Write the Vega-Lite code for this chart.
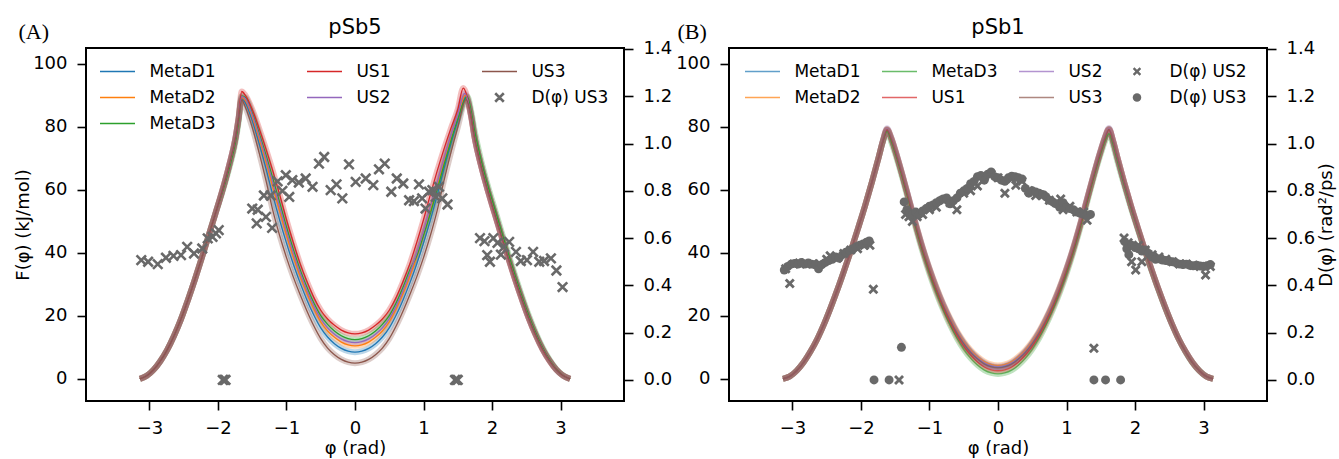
{
"$schema": "https://vega.github.io/schema/vega-lite/v6.json",
"background": "white",
"padding": {"left": 13, "top": 16, "right": 0, "bottom": 0},
"config": {
 "font": "DejaVu Sans",
 "view": {"stroke": "black", "strokeWidth": 2},
 "axis": {"domain": false, "grid": false, "tickColor": "black", "tickWidth": 1.6, "tickSize": 9, "labelFont": "DejaVu Sans", "labelFontSize": 18, "labelColor": "black", "labelPadding": 10, "titleFont": "DejaVu Sans", "titleFontSize": 18, "titleFontWeight": "normal", "titleColor": "black"},
 "axisX": {"labelPadding": 9, "titlePadding": 2},
 "title": {"font": "DejaVu Sans", "fontSize": 21, "fontWeight": "normal", "color": "black", "offset": -18, "frame": "group"}
},
"datasets": {
"cA": [
{"s":"MetaD1","x":-3.14,"F":0},{"s":"MetaD1","x":-3.04,"F":1.0},{"s":"MetaD1","x":-2.94,"F":2.9},{"s":"MetaD1","x":-2.84,"F":5.7},{"s":"MetaD1","x":-2.74,"F":9.3},{"s":"MetaD1","x":-2.64,"F":13.8},{"s":"MetaD1","x":-2.54,"F":19.0},{"s":"MetaD1","x":-2.44,"F":25.0},{"s":"MetaD1","x":-2.34,"F":31.4},{"s":"MetaD1","x":-2.24,"F":38.2},{"s":"MetaD1","x":-2.14,"F":45.2},{"s":"MetaD1","x":-2.04,"F":52.3},{"s":"MetaD1","x":-1.94,"F":59.5},{"s":"MetaD1","x":-1.84,"F":67.5},{"s":"MetaD1","x":-1.74,"F":77.0},{"s":"MetaD1","x":-1.70,"F":82.5},
{"s":"MetaD1","x":-1.654,"F":89.0},
{"s":"MetaD1","x":-1.6,"F":87.6},{"s":"MetaD1","x":-1.5,"F":82.0},{"s":"MetaD1","x":-1.4,"F":74.7},{"s":"MetaD1","x":-1.3,"F":66.8},{"s":"MetaD1","x":-1.2,"F":58.3},{"s":"MetaD1","x":-1.1,"F":50.4},{"s":"MetaD1","x":-1.0,"F":43.1},{"s":"MetaD1","x":-0.9,"F":36.4},{"s":"MetaD1","x":-0.8,"F":30.4},{"s":"MetaD1","x":-0.7,"F":25.0},{"s":"MetaD1","x":-0.6,"F":20.2},{"s":"MetaD1","x":-0.5,"F":16.2},{"s":"MetaD1","x":-0.4,"F":13.3},{"s":"MetaD1","x":-0.3,"F":11.2},{"s":"MetaD1","x":-0.2,"F":9.7},{"s":"MetaD1","x":-0.1,"F":8.8},{"s":"MetaD1","x":0,"F":8.5},{"s":"MetaD1","x":0.1,"F":8.8},{"s":"MetaD1","x":0.2,"F":9.7},{"s":"MetaD1","x":0.3,"F":11.2},{"s":"MetaD1","x":0.4,"F":13.3},{"s":"MetaD1","x":0.5,"F":16.2},{"s":"MetaD1","x":0.6,"F":20.2},{"s":"MetaD1","x":0.7,"F":25.0},{"s":"MetaD1","x":0.8,"F":30.4},{"s":"MetaD1","x":0.9,"F":36.4},{"s":"MetaD1","x":1.0,"F":43.1},{"s":"MetaD1","x":1.1,"F":50.4},{"s":"MetaD1","x":1.2,"F":58.3},{"s":"MetaD1","x":1.3,"F":66.8},{"s":"MetaD1","x":1.4,"F":74.7},{"s":"MetaD1","x":1.5,"F":82.0},
{"s":"MetaD1","x":1.62,"F":89.5},
{"s":"MetaD1","x":1.70,"F":83.0},{"s":"MetaD1","x":1.74,"F":77.5},{"s":"MetaD1","x":1.84,"F":67.8},{"s":"MetaD1","x":1.94,"F":59.8},{"s":"MetaD1","x":2.04,"F":52.5},{"s":"MetaD1","x":2.14,"F":45.3},{"s":"MetaD1","x":2.24,"F":38.3},{"s":"MetaD1","x":2.34,"F":31.5},{"s":"MetaD1","x":2.44,"F":25.1},{"s":"MetaD1","x":2.54,"F":19.1},{"s":"MetaD1","x":2.64,"F":13.9},{"s":"MetaD1","x":2.74,"F":9.4},{"s":"MetaD1","x":2.84,"F":5.8},{"s":"MetaD1","x":2.94,"F":2.9},{"s":"MetaD1","x":3.04,"F":1.0},{"s":"MetaD1","x":3.14,"F":0},

{"s":"MetaD2","x":-3.14,"F":0},{"s":"MetaD2","x":-3.04,"F":1.0},{"s":"MetaD2","x":-2.94,"F":2.9},{"s":"MetaD2","x":-2.84,"F":5.7},{"s":"MetaD2","x":-2.74,"F":9.3},{"s":"MetaD2","x":-2.64,"F":13.8},{"s":"MetaD2","x":-2.54,"F":19.0},{"s":"MetaD2","x":-2.44,"F":25.0},{"s":"MetaD2","x":-2.34,"F":31.4},{"s":"MetaD2","x":-2.24,"F":38.2},{"s":"MetaD2","x":-2.14,"F":45.2},{"s":"MetaD2","x":-2.04,"F":52.3},{"s":"MetaD2","x":-1.94,"F":59.5},{"s":"MetaD2","x":-1.84,"F":67.5},{"s":"MetaD2","x":-1.74,"F":77.0},{"s":"MetaD2","x":-1.70,"F":82.5},
{"s":"MetaD2","x":-1.654,"F":89.3},
{"s":"MetaD2","x":-1.6,"F":88.4},{"s":"MetaD2","x":-1.5,"F":83.2},{"s":"MetaD2","x":-1.4,"F":76.3},{"s":"MetaD2","x":-1.3,"F":68.9},{"s":"MetaD2","x":-1.2,"F":60.9},{"s":"MetaD2","x":-1.1,"F":53.2},{"s":"MetaD2","x":-1.0,"F":45.6},{"s":"MetaD2","x":-0.9,"F":38.7},{"s":"MetaD2","x":-0.8,"F":32.5},{"s":"MetaD2","x":-0.7,"F":27.0},{"s":"MetaD2","x":-0.6,"F":22.1},{"s":"MetaD2","x":-0.5,"F":18.1},{"s":"MetaD2","x":-0.4,"F":15.2},{"s":"MetaD2","x":-0.3,"F":13.2},{"s":"MetaD2","x":-0.2,"F":11.7},{"s":"MetaD2","x":-0.1,"F":10.8},{"s":"MetaD2","x":0,"F":10.5},{"s":"MetaD2","x":0.1,"F":10.8},{"s":"MetaD2","x":0.2,"F":11.7},{"s":"MetaD2","x":0.3,"F":13.2},{"s":"MetaD2","x":0.4,"F":15.2},{"s":"MetaD2","x":0.5,"F":18.1},{"s":"MetaD2","x":0.6,"F":22.1},{"s":"MetaD2","x":0.7,"F":27.0},{"s":"MetaD2","x":0.8,"F":32.5},{"s":"MetaD2","x":0.9,"F":38.7},{"s":"MetaD2","x":1.0,"F":45.6},{"s":"MetaD2","x":1.1,"F":53.2},{"s":"MetaD2","x":1.2,"F":60.9},{"s":"MetaD2","x":1.3,"F":68.9},{"s":"MetaD2","x":1.4,"F":76.3},{"s":"MetaD2","x":1.5,"F":83.2},
{"s":"MetaD2","x":1.61,"F":90.0},
{"s":"MetaD2","x":1.70,"F":83.0},{"s":"MetaD2","x":1.74,"F":77.5},{"s":"MetaD2","x":1.84,"F":67.8},{"s":"MetaD2","x":1.94,"F":59.8},{"s":"MetaD2","x":2.04,"F":52.5},{"s":"MetaD2","x":2.14,"F":45.3},{"s":"MetaD2","x":2.24,"F":38.3},{"s":"MetaD2","x":2.34,"F":31.5},{"s":"MetaD2","x":2.44,"F":25.1},{"s":"MetaD2","x":2.54,"F":19.1},{"s":"MetaD2","x":2.64,"F":13.9},{"s":"MetaD2","x":2.74,"F":9.4},{"s":"MetaD2","x":2.84,"F":5.8},{"s":"MetaD2","x":2.94,"F":2.9},{"s":"MetaD2","x":3.04,"F":1.0},{"s":"MetaD2","x":3.14,"F":0},

{"s":"MetaD3","x":-3.14,"F":0},{"s":"MetaD3","x":-3.04,"F":1.0},{"s":"MetaD3","x":-2.94,"F":2.9},{"s":"MetaD3","x":-2.84,"F":5.7},{"s":"MetaD3","x":-2.74,"F":9.3},{"s":"MetaD3","x":-2.64,"F":13.8},{"s":"MetaD3","x":-2.54,"F":19.0},{"s":"MetaD3","x":-2.44,"F":25.0},{"s":"MetaD3","x":-2.34,"F":31.4},{"s":"MetaD3","x":-2.24,"F":38.2},{"s":"MetaD3","x":-2.14,"F":45.2},{"s":"MetaD3","x":-2.04,"F":52.3},{"s":"MetaD3","x":-1.94,"F":59.0},{"s":"MetaD3","x":-1.84,"F":66.5},{"s":"MetaD3","x":-1.74,"F":75.8},{"s":"MetaD3","x":-1.70,"F":81.5},
{"s":"MetaD3","x":-1.654,"F":89.8},
{"s":"MetaD3","x":-1.6,"F":89.3},{"s":"MetaD3","x":-1.5,"F":84.4},{"s":"MetaD3","x":-1.4,"F":78.0},{"s":"MetaD3","x":-1.3,"F":71.1},{"s":"MetaD3","x":-1.2,"F":63.6},{"s":"MetaD3","x":-1.1,"F":56.0},{"s":"MetaD3","x":-1.0,"F":48.2},{"s":"MetaD3","x":-0.9,"F":41.1},{"s":"MetaD3","x":-0.8,"F":34.6},{"s":"MetaD3","x":-0.7,"F":29.0},{"s":"MetaD3","x":-0.6,"F":24.1},{"s":"MetaD3","x":-0.5,"F":20.1},{"s":"MetaD3","x":-0.4,"F":17.3},{"s":"MetaD3","x":-0.3,"F":15.2},{"s":"MetaD3","x":-0.2,"F":13.7},{"s":"MetaD3","x":-0.1,"F":12.8},{"s":"MetaD3","x":0,"F":12.5},{"s":"MetaD3","x":0.1,"F":12.8},{"s":"MetaD3","x":0.2,"F":13.7},{"s":"MetaD3","x":0.3,"F":15.2},{"s":"MetaD3","x":0.4,"F":17.3},{"s":"MetaD3","x":0.5,"F":20.1},{"s":"MetaD3","x":0.6,"F":24.1},{"s":"MetaD3","x":0.7,"F":29.0},{"s":"MetaD3","x":0.8,"F":34.6},{"s":"MetaD3","x":0.9,"F":39.0},{"s":"MetaD3","x":1.0,"F":45.5},{"s":"MetaD3","x":1.1,"F":52.5},{"s":"MetaD3","x":1.2,"F":60.0},{"s":"MetaD3","x":1.3,"F":68.0},{"s":"MetaD3","x":1.4,"F":75.5},{"s":"MetaD3","x":1.5,"F":82.5},
{"s":"MetaD3","x":1.64,"F":89.6},
{"s":"MetaD3","x":1.70,"F":84.5},{"s":"MetaD3","x":1.74,"F":79.5},{"s":"MetaD3","x":1.84,"F":69.5},{"s":"MetaD3","x":1.94,"F":61.3},{"s":"MetaD3","x":2.04,"F":54.0},{"s":"MetaD3","x":2.14,"F":46.7},{"s":"MetaD3","x":2.24,"F":39.6},{"s":"MetaD3","x":2.34,"F":32.7},{"s":"MetaD3","x":2.44,"F":26.1},{"s":"MetaD3","x":2.54,"F":20.0},{"s":"MetaD3","x":2.64,"F":14.6},{"s":"MetaD3","x":2.74,"F":9.9},{"s":"MetaD3","x":2.84,"F":6.1},{"s":"MetaD3","x":2.94,"F":3.1},{"s":"MetaD3","x":3.04,"F":1.1},{"s":"MetaD3","x":3.14,"F":0},

{"s":"US1","x":-3.14,"F":0},{"s":"US1","x":-3.04,"F":1.0},{"s":"US1","x":-2.94,"F":2.9},{"s":"US1","x":-2.84,"F":5.7},{"s":"US1","x":-2.74,"F":9.3},{"s":"US1","x":-2.64,"F":13.8},{"s":"US1","x":-2.54,"F":19.0},{"s":"US1","x":-2.44,"F":25.0},{"s":"US1","x":-2.34,"F":31.4},{"s":"US1","x":-2.24,"F":38.2},{"s":"US1","x":-2.14,"F":45.2},{"s":"US1","x":-2.04,"F":52.3},{"s":"US1","x":-1.94,"F":59.5},{"s":"US1","x":-1.84,"F":67.5},{"s":"US1","x":-1.74,"F":77.0},{"s":"US1","x":-1.70,"F":82.8},
{"s":"US1","x":-1.654,"F":91.2},
{"s":"US1","x":-1.6,"F":90.0},{"s":"US1","x":-1.5,"F":85.5},{"s":"US1","x":-1.4,"F":79.5},{"s":"US1","x":-1.3,"F":73.0},{"s":"US1","x":-1.2,"F":66.0},{"s":"US1","x":-1.1,"F":58.5},{"s":"US1","x":-1.0,"F":50.5},{"s":"US1","x":-0.9,"F":43.2},{"s":"US1","x":-0.8,"F":36.5},{"s":"US1","x":-0.7,"F":30.8},{"s":"US1","x":-0.6,"F":25.8},{"s":"US1","x":-0.5,"F":21.8},{"s":"US1","x":-0.4,"F":19.0},{"s":"US1","x":-0.3,"F":17.0},{"s":"US1","x":-0.2,"F":15.5},{"s":"US1","x":-0.1,"F":14.6},{"s":"US1","x":0,"F":14.3},{"s":"US1","x":0.1,"F":14.6},{"s":"US1","x":0.2,"F":15.5},{"s":"US1","x":0.3,"F":17.0},{"s":"US1","x":0.4,"F":19.0},{"s":"US1","x":0.5,"F":21.8},{"s":"US1","x":0.6,"F":25.8},{"s":"US1","x":0.7,"F":30.8},{"s":"US1","x":0.8,"F":36.5},{"s":"US1","x":0.9,"F":43.2},{"s":"US1","x":1.0,"F":50.5},{"s":"US1","x":1.1,"F":58.5},{"s":"US1","x":1.2,"F":66.0},{"s":"US1","x":1.3,"F":73.0},{"s":"US1","x":1.4,"F":79.5},{"s":"US1","x":1.5,"F":85.5},
{"s":"US1","x":1.58,"F":92.3},
{"s":"US1","x":1.70,"F":82.5},{"s":"US1","x":1.74,"F":77.2},{"s":"US1","x":1.84,"F":67.6},{"s":"US1","x":1.94,"F":59.6},{"s":"US1","x":2.04,"F":52.3},{"s":"US1","x":2.14,"F":45.1},{"s":"US1","x":2.24,"F":38.1},{"s":"US1","x":2.34,"F":31.3},{"s":"US1","x":2.44,"F":25.0},{"s":"US1","x":2.54,"F":19.0},{"s":"US1","x":2.64,"F":13.8},{"s":"US1","x":2.74,"F":9.3},{"s":"US1","x":2.84,"F":5.7},{"s":"US1","x":2.94,"F":2.9},{"s":"US1","x":3.04,"F":1.0},{"s":"US1","x":3.14,"F":0},

{"s":"US2","x":-3.14,"F":0},{"s":"US2","x":-3.04,"F":1.0},{"s":"US2","x":-2.94,"F":2.9},{"s":"US2","x":-2.84,"F":5.7},{"s":"US2","x":-2.74,"F":9.3},{"s":"US2","x":-2.64,"F":13.8},{"s":"US2","x":-2.54,"F":19.0},{"s":"US2","x":-2.44,"F":25.0},{"s":"US2","x":-2.34,"F":31.4},{"s":"US2","x":-2.24,"F":38.2},{"s":"US2","x":-2.14,"F":45.2},{"s":"US2","x":-2.04,"F":52.3},{"s":"US2","x":-1.94,"F":59.5},{"s":"US2","x":-1.84,"F":67.5},{"s":"US2","x":-1.74,"F":77.0},{"s":"US2","x":-1.70,"F":82.5},
{"s":"US2","x":-1.654,"F":89.6},
{"s":"US2","x":-1.6,"F":88.9},{"s":"US2","x":-1.5,"F":83.8},{"s":"US2","x":-1.4,"F":77.2},{"s":"US2","x":-1.3,"F":70.0},{"s":"US2","x":-1.2,"F":62.3},{"s":"US2","x":-1.1,"F":54.6},{"s":"US2","x":-1.0,"F":46.9},{"s":"US2","x":-0.9,"F":39.9},{"s":"US2","x":-0.8,"F":33.6},{"s":"US2","x":-0.7,"F":28.0},{"s":"US2","x":-0.6,"F":23.1},{"s":"US2","x":-0.5,"F":19.1},{"s":"US2","x":-0.4,"F":16.2},{"s":"US2","x":-0.3,"F":14.2},{"s":"US2","x":-0.2,"F":12.7},{"s":"US2","x":-0.1,"F":11.8},{"s":"US2","x":0,"F":11.5},{"s":"US2","x":0.1,"F":11.8},{"s":"US2","x":0.2,"F":12.7},{"s":"US2","x":0.3,"F":14.2},{"s":"US2","x":0.4,"F":16.2},{"s":"US2","x":0.5,"F":19.1},{"s":"US2","x":0.6,"F":23.1},{"s":"US2","x":0.7,"F":28.0},{"s":"US2","x":0.8,"F":33.6},{"s":"US2","x":0.9,"F":39.9},{"s":"US2","x":1.0,"F":46.9},{"s":"US2","x":1.1,"F":54.6},{"s":"US2","x":1.2,"F":62.3},{"s":"US2","x":1.3,"F":70.0},{"s":"US2","x":1.4,"F":77.2},{"s":"US2","x":1.5,"F":83.8},
{"s":"US2","x":1.60,"F":90.6},
{"s":"US2","x":1.70,"F":83.0},{"s":"US2","x":1.74,"F":77.5},{"s":"US2","x":1.84,"F":67.8},{"s":"US2","x":1.94,"F":59.8},{"s":"US2","x":2.04,"F":52.5},{"s":"US2","x":2.14,"F":45.3},{"s":"US2","x":2.24,"F":38.3},{"s":"US2","x":2.34,"F":31.5},{"s":"US2","x":2.44,"F":25.1},{"s":"US2","x":2.54,"F":19.1},{"s":"US2","x":2.64,"F":13.9},{"s":"US2","x":2.74,"F":9.4},{"s":"US2","x":2.84,"F":5.8},{"s":"US2","x":2.94,"F":2.9},{"s":"US2","x":3.04,"F":1.0},{"s":"US2","x":3.14,"F":0},

{"s":"US3","x":-3.14,"F":0},{"s":"US3","x":-3.04,"F":1.0},{"s":"US3","x":-2.94,"F":2.9},{"s":"US3","x":-2.84,"F":5.7},{"s":"US3","x":-2.74,"F":9.3},{"s":"US3","x":-2.64,"F":13.8},{"s":"US3","x":-2.54,"F":19.0},{"s":"US3","x":-2.44,"F":25.0},{"s":"US3","x":-2.34,"F":31.4},{"s":"US3","x":-2.24,"F":38.2},{"s":"US3","x":-2.14,"F":45.2},{"s":"US3","x":-2.04,"F":52.3},{"s":"US3","x":-1.94,"F":59.5},{"s":"US3","x":-1.84,"F":67.5},{"s":"US3","x":-1.74,"F":77.0},{"s":"US3","x":-1.70,"F":82.5},
{"s":"US3","x":-1.654,"F":88.5},
{"s":"US3","x":-1.6,"F":86.2},{"s":"US3","x":-1.5,"F":79.8},{"s":"US3","x":-1.4,"F":71.8},{"s":"US3","x":-1.3,"F":63.0},{"s":"US3","x":-1.2,"F":53.5},{"s":"US3","x":-1.1,"F":45.5},{"s":"US3","x":-1.0,"F":38.5},{"s":"US3","x":-0.9,"F":32.3},{"s":"US3","x":-0.8,"F":26.7},{"s":"US3","x":-0.7,"F":21.5},{"s":"US3","x":-0.6,"F":16.8},{"s":"US3","x":-0.5,"F":12.8},{"s":"US3","x":-0.4,"F":9.8},{"s":"US3","x":-0.3,"F":7.7},{"s":"US3","x":-0.2,"F":6.2},{"s":"US3","x":-0.1,"F":5.3},{"s":"US3","x":0,"F":5.0},{"s":"US3","x":0.1,"F":5.3},{"s":"US3","x":0.2,"F":6.2},{"s":"US3","x":0.3,"F":7.7},{"s":"US3","x":0.4,"F":9.8},{"s":"US3","x":0.5,"F":12.8},{"s":"US3","x":0.6,"F":16.8},{"s":"US3","x":0.7,"F":21.5},{"s":"US3","x":0.8,"F":26.7},{"s":"US3","x":0.9,"F":32.3},{"s":"US3","x":1.0,"F":38.5},{"s":"US3","x":1.1,"F":45.5},{"s":"US3","x":1.2,"F":53.5},{"s":"US3","x":1.3,"F":63.0},{"s":"US3","x":1.4,"F":71.8},{"s":"US3","x":1.5,"F":79.8},
{"s":"US3","x":1.62,"F":88.6},
{"s":"US3","x":1.70,"F":83.0},{"s":"US3","x":1.74,"F":77.5},{"s":"US3","x":1.84,"F":67.8},{"s":"US3","x":1.94,"F":59.8},{"s":"US3","x":2.04,"F":52.5},{"s":"US3","x":2.14,"F":45.3},{"s":"US3","x":2.24,"F":38.3},{"s":"US3","x":2.34,"F":31.5},{"s":"US3","x":2.44,"F":25.1},{"s":"US3","x":2.54,"F":19.1},{"s":"US3","x":2.64,"F":13.9},{"s":"US3","x":2.74,"F":9.4},{"s":"US3","x":2.84,"F":5.8},{"s":"US3","x":2.94,"F":2.9},{"s":"US3","x":3.04,"F":1.0},{"s":"US3","x":3.14,"F":0}
],
"pA": [
{"s":"D(φ) US3","x":-3.12,"D":0.507},{"s":"D(φ) US3","x":-3.02,"D":0.50},{"s":"D(φ) US3","x":-2.88,"D":0.49},{"s":"D(φ) US3","x":-2.76,"D":0.517},{"s":"D(φ) US3","x":-2.65,"D":0.525},{"s":"D(φ) US3","x":-2.54,"D":0.528},{"s":"D(φ) US3","x":-2.45,"D":0.563},{"s":"D(φ) US3","x":-2.35,"D":0.535},{"s":"D(φ) US3","x":-2.23,"D":0.556},{"s":"D(φ) US3","x":-2.15,"D":0.599},{"s":"D(φ) US3","x":-2.08,"D":0.605},{"s":"D(φ) US3","x":-2.03,"D":0.62},{"s":"D(φ) US3","x":-1.99,"D":0.634},
{"s":"D(φ) US3","x":-1.93,"D":0.0},{"s":"D(φ) US3","x":-1.91,"D":0.0},{"s":"D(φ) US3","x":-1.89,"D":0.0},
{"s":"D(φ) US3","x":-1.50,"D":0.725},{"s":"D(φ) US3","x":-1.435,"D":0.662},{"s":"D(φ) US3","x":-1.42,"D":0.72},{"s":"D(φ) US3","x":-1.33,"D":0.78},{"s":"D(φ) US3","x":-1.30,"D":0.69},{"s":"D(φ) US3","x":-1.23,"D":0.78},{"s":"D(φ) US3","x":-1.21,"D":0.643},{"s":"D(φ) US3","x":-1.13,"D":0.84},{"s":"D(φ) US3","x":-1.06,"D":0.80},{"s":"D(φ) US3","x":-1.01,"D":0.866},{"s":"D(φ) US3","x":-0.96,"D":0.774},{"s":"D(φ) US3","x":-0.915,"D":0.845},{"s":"D(φ) US3","x":-0.82,"D":0.835},{"s":"D(φ) US3","x":-0.72,"D":0.852},{"s":"D(φ) US3","x":-0.62,"D":0.817},{"s":"D(φ) US3","x":-0.526,"D":0.915},{"s":"D(φ) US3","x":-0.45,"D":0.943},{"s":"D(φ) US3","x":-0.355,"D":0.803},{"s":"D(φ) US3","x":-0.27,"D":0.827},{"s":"D(φ) US3","x":-0.185,"D":0.768},{"s":"D(φ) US3","x":-0.088,"D":0.912},{"s":"D(φ) US3","x":0.01,"D":0.838},
{"s":"D(φ) US3","x":0.156,"D":0.852},{"s":"D(φ) US3","x":0.267,"D":0.824},{"s":"D(φ) US3","x":0.35,"D":0.891},{"s":"D(φ) US3","x":0.434,"D":0.915},{"s":"D(φ) US3","x":0.53,"D":0.796},{"s":"D(φ) US3","x":0.61,"D":0.852},{"s":"D(φ) US3","x":0.705,"D":0.831},{"s":"D(φ) US3","x":0.79,"D":0.76},{"s":"D(φ) US3","x":0.86,"D":0.756},{"s":"D(φ) US3","x":0.934,"D":0.827},{"s":"D(φ) US3","x":0.98,"D":0.768},{"s":"D(φ) US3","x":1.03,"D":0.725},{"s":"D(φ) US3","x":1.08,"D":0.796},{"s":"D(φ) US3","x":1.13,"D":0.803},{"s":"D(φ) US3","x":1.18,"D":0.774},{"s":"D(φ) US3","x":1.226,"D":0.817},{"s":"D(φ) US3","x":1.275,"D":0.768},{"s":"D(φ) US3","x":1.35,"D":0.742},
{"s":"D(φ) US3","x":1.46,"D":0.0},{"s":"D(φ) US3","x":1.48,"D":0.0},{"s":"D(φ) US3","x":1.50,"D":0.0},
{"s":"D(φ) US3","x":1.825,"D":0.60},{"s":"D(φ) US3","x":1.89,"D":0.587},{"s":"D(φ) US3","x":1.93,"D":0.528},{"s":"D(φ) US3","x":1.97,"D":0.50},{"s":"D(φ) US3","x":2.02,"D":0.60},{"s":"D(φ) US3","x":2.08,"D":0.58},{"s":"D(φ) US3","x":2.13,"D":0.53},{"s":"D(φ) US3","x":2.175,"D":0.563},{"s":"D(φ) US3","x":2.25,"D":0.584},{"s":"D(φ) US3","x":2.35,"D":0.542},{"s":"D(φ) US3","x":2.42,"D":0.503},{"s":"D(φ) US3","x":2.51,"D":0.507},{"s":"D(φ) US3","x":2.60,"D":0.542},{"s":"D(φ) US3","x":2.69,"D":0.50},{"s":"D(φ) US3","x":2.76,"D":0.503},{"s":"D(φ) US3","x":2.86,"D":0.514},{"s":"D(φ) US3","x":2.94,"D":0.463},{"s":"D(φ) US3","x":3.03,"D":0.393}
],
"cB": [
{"s":"MetaD1","x":-3.14,"F":0},{"s":"MetaD1","x":-3.04,"F":0.8},{"s":"MetaD1","x":-2.94,"F":2.6},{"s":"MetaD1","x":-2.84,"F":5.2},{"s":"MetaD1","x":-2.74,"F":8.6},{"s":"MetaD1","x":-2.64,"F":12.6},{"s":"MetaD1","x":-2.54,"F":17.4},{"s":"MetaD1","x":-2.44,"F":22.8},{"s":"MetaD1","x":-2.34,"F":28.6},{"s":"MetaD1","x":-2.24,"F":34.8},{"s":"MetaD1","x":-2.14,"F":41.2},{"s":"MetaD1","x":-2.04,"F":48.0},{"s":"MetaD1","x":-1.94,"F":55.0},{"s":"MetaD1","x":-1.84,"F":62.5},{"s":"MetaD1","x":-1.74,"F":70.5},{"s":"MetaD1","x":-1.68,"F":75.5},
{"s":"MetaD1","x":-1.62,"F":79.2},
{"s":"MetaD1","x":-1.56,"F":76.5},{"s":"MetaD1","x":-1.5,"F":72.5},{"s":"MetaD1","x":-1.4,"F":65.0},{"s":"MetaD1","x":-1.3,"F":57.0},{"s":"MetaD1","x":-1.2,"F":49.0},{"s":"MetaD1","x":-1.1,"F":41.5},{"s":"MetaD1","x":-1.0,"F":34.8},{"s":"MetaD1","x":-0.9,"F":28.8},{"s":"MetaD1","x":-0.8,"F":23.5},{"s":"MetaD1","x":-0.7,"F":18.8},{"s":"MetaD1","x":-0.6,"F":14.7},{"s":"MetaD1","x":-0.5,"F":11.3},{"s":"MetaD1","x":-0.4,"F":8.6},{"s":"MetaD1","x":-0.3,"F":6.5},{"s":"MetaD1","x":-0.2,"F":4.9},{"s":"MetaD1","x":-0.1,"F":4.0},{"s":"MetaD1","x":0,"F":3.7},{"s":"MetaD1","x":0.1,"F":4.0},{"s":"MetaD1","x":0.2,"F":4.9},{"s":"MetaD1","x":0.3,"F":6.5},{"s":"MetaD1","x":0.4,"F":8.6},{"s":"MetaD1","x":0.5,"F":11.3},{"s":"MetaD1","x":0.6,"F":14.7},{"s":"MetaD1","x":0.7,"F":18.8},{"s":"MetaD1","x":0.8,"F":23.5},{"s":"MetaD1","x":0.9,"F":28.8},{"s":"MetaD1","x":1.0,"F":34.8},{"s":"MetaD1","x":1.1,"F":41.5},{"s":"MetaD1","x":1.2,"F":49.0},{"s":"MetaD1","x":1.3,"F":57.0},{"s":"MetaD1","x":1.4,"F":65.0},{"s":"MetaD1","x":1.5,"F":72.5},{"s":"MetaD1","x":1.56,"F":76.5},
{"s":"MetaD1","x":1.62,"F":79.3},
{"s":"MetaD1","x":1.68,"F":75.5},{"s":"MetaD1","x":1.74,"F":70.5},{"s":"MetaD1","x":1.84,"F":62.5},{"s":"MetaD1","x":1.94,"F":55.0},{"s":"MetaD1","x":2.04,"F":48.0},{"s":"MetaD1","x":2.14,"F":41.2},{"s":"MetaD1","x":2.24,"F":34.8},{"s":"MetaD1","x":2.34,"F":28.6},{"s":"MetaD1","x":2.44,"F":22.8},{"s":"MetaD1","x":2.54,"F":17.4},{"s":"MetaD1","x":2.64,"F":12.6},{"s":"MetaD1","x":2.74,"F":8.6},{"s":"MetaD1","x":2.84,"F":5.2},{"s":"MetaD1","x":2.94,"F":2.6},{"s":"MetaD1","x":3.04,"F":0.8},{"s":"MetaD1","x":3.14,"F":0},

{"s":"MetaD2","x":-3.14,"F":0},{"s":"MetaD2","x":-3.04,"F":0.8},{"s":"MetaD2","x":-2.94,"F":2.6},{"s":"MetaD2","x":-2.84,"F":5.2},{"s":"MetaD2","x":-2.74,"F":8.6},{"s":"MetaD2","x":-2.64,"F":12.6},{"s":"MetaD2","x":-2.54,"F":17.4},{"s":"MetaD2","x":-2.44,"F":22.8},{"s":"MetaD2","x":-2.34,"F":28.6},{"s":"MetaD2","x":-2.24,"F":34.8},{"s":"MetaD2","x":-2.14,"F":41.2},{"s":"MetaD2","x":-2.04,"F":48.0},{"s":"MetaD2","x":-1.94,"F":55.0},{"s":"MetaD2","x":-1.84,"F":62.5},{"s":"MetaD2","x":-1.74,"F":70.5},{"s":"MetaD2","x":-1.68,"F":75.5},
{"s":"MetaD2","x":-1.62,"F":79.3},
{"s":"MetaD2","x":-1.56,"F":76.6},{"s":"MetaD2","x":-1.5,"F":72.6},{"s":"MetaD2","x":-1.4,"F":65.1},{"s":"MetaD2","x":-1.3,"F":57.1},{"s":"MetaD2","x":-1.2,"F":49.2},{"s":"MetaD2","x":-1.1,"F":41.7},{"s":"MetaD2","x":-1.0,"F":35.1},{"s":"MetaD2","x":-0.9,"F":29.2},{"s":"MetaD2","x":-0.8,"F":23.9},{"s":"MetaD2","x":-0.7,"F":19.3},{"s":"MetaD2","x":-0.6,"F":15.2},{"s":"MetaD2","x":-0.5,"F":11.9},{"s":"MetaD2","x":-0.4,"F":9.2},{"s":"MetaD2","x":-0.3,"F":7.1},{"s":"MetaD2","x":-0.2,"F":5.5},{"s":"MetaD2","x":-0.1,"F":4.6},{"s":"MetaD2","x":0,"F":4.3},{"s":"MetaD2","x":0.1,"F":4.6},{"s":"MetaD2","x":0.2,"F":5.5},{"s":"MetaD2","x":0.3,"F":7.1},{"s":"MetaD2","x":0.4,"F":9.2},{"s":"MetaD2","x":0.5,"F":11.9},{"s":"MetaD2","x":0.6,"F":15.2},{"s":"MetaD2","x":0.7,"F":19.3},{"s":"MetaD2","x":0.8,"F":23.9},{"s":"MetaD2","x":0.9,"F":29.2},{"s":"MetaD2","x":1.0,"F":35.1},{"s":"MetaD2","x":1.1,"F":41.7},{"s":"MetaD2","x":1.2,"F":49.2},{"s":"MetaD2","x":1.3,"F":57.1},{"s":"MetaD2","x":1.4,"F":65.1},{"s":"MetaD2","x":1.5,"F":72.6},{"s":"MetaD2","x":1.56,"F":76.6},
{"s":"MetaD2","x":1.62,"F":79.4},
{"s":"MetaD2","x":1.68,"F":75.5},{"s":"MetaD2","x":1.74,"F":70.5},{"s":"MetaD2","x":1.84,"F":62.5},{"s":"MetaD2","x":1.94,"F":55.0},{"s":"MetaD2","x":2.04,"F":48.0},{"s":"MetaD2","x":2.14,"F":41.2},{"s":"MetaD2","x":2.24,"F":34.8},{"s":"MetaD2","x":2.34,"F":28.6},{"s":"MetaD2","x":2.44,"F":22.8},{"s":"MetaD2","x":2.54,"F":17.4},{"s":"MetaD2","x":2.64,"F":12.6},{"s":"MetaD2","x":2.74,"F":8.6},{"s":"MetaD2","x":2.84,"F":5.2},{"s":"MetaD2","x":2.94,"F":2.6},{"s":"MetaD2","x":3.04,"F":0.8},{"s":"MetaD2","x":3.14,"F":0},

{"s":"MetaD3","x":-3.14,"F":0},{"s":"MetaD3","x":-3.04,"F":0.8},{"s":"MetaD3","x":-2.94,"F":2.6},{"s":"MetaD3","x":-2.84,"F":5.2},{"s":"MetaD3","x":-2.74,"F":8.6},{"s":"MetaD3","x":-2.64,"F":12.6},{"s":"MetaD3","x":-2.54,"F":17.4},{"s":"MetaD3","x":-2.44,"F":22.8},{"s":"MetaD3","x":-2.34,"F":28.6},{"s":"MetaD3","x":-2.24,"F":34.8},{"s":"MetaD3","x":-2.14,"F":41.2},{"s":"MetaD3","x":-2.04,"F":48.0},{"s":"MetaD3","x":-1.94,"F":55.0},{"s":"MetaD3","x":-1.84,"F":62.5},{"s":"MetaD3","x":-1.74,"F":70.5},{"s":"MetaD3","x":-1.68,"F":75.3},
{"s":"MetaD3","x":-1.62,"F":78.5},
{"s":"MetaD3","x":-1.56,"F":75.3},{"s":"MetaD3","x":-1.5,"F":71.4},{"s":"MetaD3","x":-1.4,"F":64.0},{"s":"MetaD3","x":-1.3,"F":55.9},{"s":"MetaD3","x":-1.2,"F":47.8},{"s":"MetaD3","x":-1.1,"F":40.2},{"s":"MetaD3","x":-1.0,"F":33.4},{"s":"MetaD3","x":-0.9,"F":27.3},{"s":"MetaD3","x":-0.8,"F":21.9},{"s":"MetaD3","x":-0.7,"F":17.1},{"s":"MetaD3","x":-0.6,"F":12.9},{"s":"MetaD3","x":-0.5,"F":9.4},{"s":"MetaD3","x":-0.4,"F":6.6},{"s":"MetaD3","x":-0.3,"F":4.4},{"s":"MetaD3","x":-0.2,"F":2.8},{"s":"MetaD3","x":-0.1,"F":1.9},{"s":"MetaD3","x":0,"F":1.6},{"s":"MetaD3","x":0.1,"F":1.9},{"s":"MetaD3","x":0.2,"F":2.8},{"s":"MetaD3","x":0.3,"F":4.4},{"s":"MetaD3","x":0.4,"F":6.6},{"s":"MetaD3","x":0.5,"F":9.4},{"s":"MetaD3","x":0.6,"F":12.9},{"s":"MetaD3","x":0.7,"F":17.1},{"s":"MetaD3","x":0.8,"F":21.9},{"s":"MetaD3","x":0.9,"F":27.3},{"s":"MetaD3","x":1.0,"F":33.4},{"s":"MetaD3","x":1.1,"F":40.2},{"s":"MetaD3","x":1.2,"F":47.8},{"s":"MetaD3","x":1.3,"F":55.9},{"s":"MetaD3","x":1.4,"F":64.0},{"s":"MetaD3","x":1.5,"F":71.4},{"s":"MetaD3","x":1.56,"F":75.3},
{"s":"MetaD3","x":1.62,"F":77.8},
{"s":"MetaD3","x":1.68,"F":74.2},{"s":"MetaD3","x":1.74,"F":69.3},{"s":"MetaD3","x":1.84,"F":61.6},{"s":"MetaD3","x":1.94,"F":54.3},{"s":"MetaD3","x":2.04,"F":47.5},{"s":"MetaD3","x":2.14,"F":40.8},{"s":"MetaD3","x":2.24,"F":34.5},{"s":"MetaD3","x":2.34,"F":28.4},{"s":"MetaD3","x":2.44,"F":22.6},{"s":"MetaD3","x":2.54,"F":17.3},{"s":"MetaD3","x":2.64,"F":12.5},{"s":"MetaD3","x":2.74,"F":8.5},{"s":"MetaD3","x":2.84,"F":5.1},{"s":"MetaD3","x":2.94,"F":2.6},{"s":"MetaD3","x":3.04,"F":0.8},{"s":"MetaD3","x":3.14,"F":0},

{"s":"US1","x":-3.14,"F":0},{"s":"US1","x":-3.04,"F":0.8},{"s":"US1","x":-2.94,"F":2.6},{"s":"US1","x":-2.84,"F":5.2},{"s":"US1","x":-2.74,"F":8.6},{"s":"US1","x":-2.64,"F":12.6},{"s":"US1","x":-2.54,"F":17.4},{"s":"US1","x":-2.44,"F":22.8},{"s":"US1","x":-2.34,"F":28.6},{"s":"US1","x":-2.24,"F":34.8},{"s":"US1","x":-2.14,"F":41.2},{"s":"US1","x":-2.04,"F":48.0},{"s":"US1","x":-1.94,"F":55.0},{"s":"US1","x":-1.84,"F":62.5},{"s":"US1","x":-1.74,"F":70.5},{"s":"US1","x":-1.68,"F":75.5},
{"s":"US1","x":-1.62,"F":79.0},
{"s":"US1","x":-1.56,"F":76.3},{"s":"US1","x":-1.5,"F":72.3},{"s":"US1","x":-1.4,"F":64.8},{"s":"US1","x":-1.3,"F":56.7},{"s":"US1","x":-1.2,"F":48.6},{"s":"US1","x":-1.1,"F":41.0},{"s":"US1","x":-1.0,"F":34.2},{"s":"US1","x":-0.9,"F":28.1},{"s":"US1","x":-0.8,"F":22.7},{"s":"US1","x":-0.7,"F":17.9},{"s":"US1","x":-0.6,"F":13.8},{"s":"US1","x":-0.5,"F":10.3},{"s":"US1","x":-0.4,"F":7.6},{"s":"US1","x":-0.3,"F":5.4},{"s":"US1","x":-0.2,"F":3.8},{"s":"US1","x":-0.1,"F":2.9},{"s":"US1","x":0,"F":2.6},{"s":"US1","x":0.1,"F":2.9},{"s":"US1","x":0.2,"F":3.8},{"s":"US1","x":0.3,"F":5.4},{"s":"US1","x":0.4,"F":7.6},{"s":"US1","x":0.5,"F":10.3},{"s":"US1","x":0.6,"F":13.8},{"s":"US1","x":0.7,"F":17.9},{"s":"US1","x":0.8,"F":22.7},{"s":"US1","x":0.9,"F":28.1},{"s":"US1","x":1.0,"F":34.2},{"s":"US1","x":1.1,"F":41.0},{"s":"US1","x":1.2,"F":48.6},{"s":"US1","x":1.3,"F":56.7},{"s":"US1","x":1.4,"F":64.8},{"s":"US1","x":1.5,"F":72.3},{"s":"US1","x":1.56,"F":76.3},
{"s":"US1","x":1.62,"F":79.1},
{"s":"US1","x":1.68,"F":75.5},{"s":"US1","x":1.74,"F":70.5},{"s":"US1","x":1.84,"F":62.5},{"s":"US1","x":1.94,"F":55.0},{"s":"US1","x":2.04,"F":48.0},{"s":"US1","x":2.14,"F":41.2},{"s":"US1","x":2.24,"F":34.8},{"s":"US1","x":2.34,"F":28.6},{"s":"US1","x":2.44,"F":22.8},{"s":"US1","x":2.54,"F":17.4},{"s":"US1","x":2.64,"F":12.6},{"s":"US1","x":2.74,"F":8.6},{"s":"US1","x":2.84,"F":5.2},{"s":"US1","x":2.94,"F":2.6},{"s":"US1","x":3.04,"F":0.8},{"s":"US1","x":3.14,"F":0},

{"s":"US2","x":-3.14,"F":0},{"s":"US2","x":-3.04,"F":0.8},{"s":"US2","x":-2.94,"F":2.6},{"s":"US2","x":-2.84,"F":5.2},{"s":"US2","x":-2.74,"F":8.6},{"s":"US2","x":-2.64,"F":12.6},{"s":"US2","x":-2.54,"F":17.4},{"s":"US2","x":-2.44,"F":22.8},{"s":"US2","x":-2.34,"F":28.6},{"s":"US2","x":-2.24,"F":34.8},{"s":"US2","x":-2.14,"F":41.2},{"s":"US2","x":-2.04,"F":48.0},{"s":"US2","x":-1.94,"F":55.0},{"s":"US2","x":-1.84,"F":62.5},{"s":"US2","x":-1.74,"F":70.5},{"s":"US2","x":-1.68,"F":75.6},
{"s":"US2","x":-1.62,"F":79.5},
{"s":"US2","x":-1.56,"F":76.7},{"s":"US2","x":-1.5,"F":72.7},{"s":"US2","x":-1.4,"F":65.2},{"s":"US2","x":-1.3,"F":57.2},{"s":"US2","x":-1.2,"F":49.2},{"s":"US2","x":-1.1,"F":41.7},{"s":"US2","x":-1.0,"F":35.0},{"s":"US2","x":-0.9,"F":29.0},{"s":"US2","x":-0.8,"F":23.7},{"s":"US2","x":-0.7,"F":19.0},{"s":"US2","x":-0.6,"F":14.9},{"s":"US2","x":-0.5,"F":11.5},{"s":"US2","x":-0.4,"F":8.8},{"s":"US2","x":-0.3,"F":6.7},{"s":"US2","x":-0.2,"F":5.1},{"s":"US2","x":-0.1,"F":4.2},{"s":"US2","x":0,"F":3.9},{"s":"US2","x":0.1,"F":4.2},{"s":"US2","x":0.2,"F":5.1},{"s":"US2","x":0.3,"F":6.7},{"s":"US2","x":0.4,"F":8.8},{"s":"US2","x":0.5,"F":11.5},{"s":"US2","x":0.6,"F":14.9},{"s":"US2","x":0.7,"F":19.0},{"s":"US2","x":0.8,"F":23.7},{"s":"US2","x":0.9,"F":29.0},{"s":"US2","x":1.0,"F":35.0},{"s":"US2","x":1.1,"F":41.7},{"s":"US2","x":1.2,"F":49.2},{"s":"US2","x":1.3,"F":57.2},{"s":"US2","x":1.4,"F":65.2},{"s":"US2","x":1.5,"F":72.7},{"s":"US2","x":1.56,"F":76.7},
{"s":"US2","x":1.62,"F":79.6},
{"s":"US2","x":1.68,"F":75.6},{"s":"US2","x":1.74,"F":70.5},{"s":"US2","x":1.84,"F":62.5},{"s":"US2","x":1.94,"F":55.0},{"s":"US2","x":2.04,"F":48.0},{"s":"US2","x":2.14,"F":41.2},{"s":"US2","x":2.24,"F":34.8},{"s":"US2","x":2.34,"F":28.6},{"s":"US2","x":2.44,"F":22.8},{"s":"US2","x":2.54,"F":17.4},{"s":"US2","x":2.64,"F":12.6},{"s":"US2","x":2.74,"F":8.6},{"s":"US2","x":2.84,"F":5.2},{"s":"US2","x":2.94,"F":2.6},{"s":"US2","x":3.04,"F":0.8},{"s":"US2","x":3.14,"F":0},

{"s":"US3","x":-3.14,"F":0},{"s":"US3","x":-3.04,"F":0.8},{"s":"US3","x":-2.94,"F":2.6},{"s":"US3","x":-2.84,"F":5.2},{"s":"US3","x":-2.74,"F":8.6},{"s":"US3","x":-2.64,"F":12.6},{"s":"US3","x":-2.54,"F":17.4},{"s":"US3","x":-2.44,"F":22.8},{"s":"US3","x":-2.34,"F":28.6},{"s":"US3","x":-2.24,"F":34.8},{"s":"US3","x":-2.14,"F":41.2},{"s":"US3","x":-2.04,"F":48.0},{"s":"US3","x":-1.94,"F":55.0},{"s":"US3","x":-1.84,"F":62.5},{"s":"US3","x":-1.74,"F":70.5},{"s":"US3","x":-1.68,"F":75.5},
{"s":"US3","x":-1.62,"F":79.1},
{"s":"US3","x":-1.56,"F":76.4},{"s":"US3","x":-1.5,"F":72.4},{"s":"US3","x":-1.4,"F":64.9},{"s":"US3","x":-1.3,"F":56.9},{"s":"US3","x":-1.2,"F":48.9},{"s":"US3","x":-1.1,"F":41.4},{"s":"US3","x":-1.0,"F":34.7},{"s":"US3","x":-0.9,"F":28.7},{"s":"US3","x":-0.8,"F":23.4},{"s":"US3","x":-0.7,"F":18.7},{"s":"US3","x":-0.6,"F":14.6},{"s":"US3","x":-0.5,"F":11.2},{"s":"US3","x":-0.4,"F":8.4},{"s":"US3","x":-0.3,"F":6.3},{"s":"US3","x":-0.2,"F":4.7},{"s":"US3","x":-0.1,"F":3.8},{"s":"US3","x":0,"F":3.5},{"s":"US3","x":0.1,"F":3.8},{"s":"US3","x":0.2,"F":4.7},{"s":"US3","x":0.3,"F":6.3},{"s":"US3","x":0.4,"F":8.4},{"s":"US3","x":0.5,"F":11.2},{"s":"US3","x":0.6,"F":14.6},{"s":"US3","x":0.7,"F":18.7},{"s":"US3","x":0.8,"F":23.4},{"s":"US3","x":0.9,"F":28.7},{"s":"US3","x":1.0,"F":34.7},{"s":"US3","x":1.1,"F":41.4},{"s":"US3","x":1.2,"F":48.9},{"s":"US3","x":1.3,"F":56.9},{"s":"US3","x":1.4,"F":64.9},{"s":"US3","x":1.5,"F":72.4},{"s":"US3","x":1.56,"F":76.4},
{"s":"US3","x":1.62,"F":79.2},
{"s":"US3","x":1.68,"F":75.5},{"s":"US3","x":1.74,"F":70.5},{"s":"US3","x":1.84,"F":62.5},{"s":"US3","x":1.94,"F":55.0},{"s":"US3","x":2.04,"F":48.0},{"s":"US3","x":2.14,"F":41.2},{"s":"US3","x":2.24,"F":34.8},{"s":"US3","x":2.34,"F":28.6},{"s":"US3","x":2.44,"F":22.8},{"s":"US3","x":2.54,"F":17.4},{"s":"US3","x":2.64,"F":12.6},{"s":"US3","x":2.74,"F":8.6},{"s":"US3","x":2.84,"F":5.2},{"s":"US3","x":2.94,"F":2.6},{"s":"US3","x":3.04,"F":0.8},{"s":"US3","x":3.14,"F":0}
],
"xB": [
{"s":"D(φ) US2","x":-3.1,"D":0.47},{"s":"D(φ) US2","x":-3.04,"D":0.408},{"s":"D(φ) US2","x":-2.98,"D":0.49},{"s":"D(φ) US2","x":-2.9,"D":0.495},{"s":"D(φ) US2","x":-2.8,"D":0.49},{"s":"D(φ) US2","x":-2.7,"D":0.492},{"s":"D(φ) US2","x":-2.6,"D":0.49},{"s":"D(φ) US2","x":-2.5,"D":0.51},{"s":"D(φ) US2","x":-2.45,"D":0.525},{"s":"D(φ) US2","x":-2.35,"D":0.515},{"s":"D(φ) US2","x":-2.25,"D":0.535},{"s":"D(φ) US2","x":-2.15,"D":0.55},{"s":"D(φ) US2","x":-2.05,"D":0.555},{"s":"D(φ) US2","x":-1.95,"D":0.57},{"s":"D(φ) US2","x":-1.87,"D":0.57},{"s":"D(φ) US2","x":-1.82,"D":0.384},{"s":"D(φ) US2","x":-1.445,"D":0.0},
{"s":"D(φ) US2","x":-1.35,"D":0.70},{"s":"D(φ) US2","x":-1.3,"D":0.69},{"s":"D(φ) US2","x":-1.25,"D":0.67},{"s":"D(φ) US2","x":-1.18,"D":0.69},{"s":"D(φ) US2","x":-1.1,"D":0.70},{"s":"D(φ) US2","x":-1.0,"D":0.72},{"s":"D(φ) US2","x":-0.9,"D":0.73},{"s":"D(φ) US2","x":-0.8,"D":0.76},{"s":"D(φ) US2","x":-0.7,"D":0.75},{"s":"D(φ) US2","x":-0.6,"D":0.72},{"s":"D(φ) US2","x":-0.5,"D":0.79},{"s":"D(φ) US2","x":-0.4,"D":0.80},{"s":"D(φ) US2","x":-0.3,"D":0.82},{"s":"D(φ) US2","x":-0.2,"D":0.86},{"s":"D(φ) US2","x":-0.1,"D":0.87},{"s":"D(φ) US2","x":0.0,"D":0.855},{"s":"D(φ) US2","x":0.1,"D":0.79},{"s":"D(φ) US2","x":0.2,"D":0.85},{"s":"D(φ) US2","x":0.26,"D":0.824},{"s":"D(φ) US2","x":0.35,"D":0.84},{"s":"D(φ) US2","x":0.45,"D":0.80},{"s":"D(φ) US2","x":0.55,"D":0.78},{"s":"D(φ) US2","x":0.65,"D":0.78},{"s":"D(φ) US2","x":0.75,"D":0.76},{"s":"D(φ) US2","x":0.85,"D":0.75},{"s":"D(φ) US2","x":0.915,"D":0.765},{"s":"D(φ) US2","x":0.95,"D":0.72},{"s":"D(φ) US2","x":1.05,"D":0.735},{"s":"D(φ) US2","x":1.15,"D":0.71},{"s":"D(φ) US2","x":1.25,"D":0.71},{"s":"D(φ) US2","x":1.3,"D":0.676},{"s":"D(φ) US2","x":1.40,"D":0.134},
{"s":"D(φ) US2","x":1.84,"D":0.60},{"s":"D(φ) US2","x":1.9,"D":0.58},{"s":"D(φ) US2","x":1.95,"D":0.50},{"s":"D(φ) US2","x":2.01,"D":0.465},{"s":"D(φ) US2","x":2.05,"D":0.57},{"s":"D(φ) US2","x":2.1,"D":0.50},{"s":"D(φ) US2","x":2.15,"D":0.55},{"s":"D(φ) US2","x":2.25,"D":0.53},{"s":"D(φ) US2","x":2.35,"D":0.52},{"s":"D(φ) US2","x":2.45,"D":0.51},{"s":"D(φ) US2","x":2.55,"D":0.50},{"s":"D(φ) US2","x":2.65,"D":0.49},{"s":"D(φ) US2","x":2.75,"D":0.49},{"s":"D(φ) US2","x":2.85,"D":0.485},{"s":"D(φ) US2","x":2.95,"D":0.48},{"s":"D(φ) US2","x":3.03,"D":0.444},{"s":"D(φ) US2","x":3.1,"D":0.48}
],
"oB": [
{"s":"D(φ) US3","x":-3.12,"D":0.465},{"s":"D(φ) US3","x":-3.07,"D":0.48},{"s":"D(φ) US3","x":-3.02,"D":0.49},{"s":"D(φ) US3","x":-2.97,"D":0.493},{"s":"D(φ) US3","x":-2.92,"D":0.49},{"s":"D(φ) US3","x":-2.87,"D":0.497},{"s":"D(φ) US3","x":-2.82,"D":0.49},{"s":"D(φ) US3","x":-2.77,"D":0.495},{"s":"D(φ) US3","x":-2.72,"D":0.49},{"s":"D(φ) US3","x":-2.67,"D":0.487},{"s":"D(φ) US3","x":-2.62,"D":0.47},{"s":"D(φ) US3","x":-2.57,"D":0.488},{"s":"D(φ) US3","x":-2.52,"D":0.497},{"s":"D(φ) US3","x":-2.47,"D":0.505},{"s":"D(φ) US3","x":-2.42,"D":0.51},{"s":"D(φ) US3","x":-2.37,"D":0.52},{"s":"D(φ) US3","x":-2.32,"D":0.515},{"s":"D(φ) US3","x":-2.27,"D":0.53},{"s":"D(φ) US3","x":-2.22,"D":0.54},{"s":"D(φ) US3","x":-2.17,"D":0.548},{"s":"D(φ) US3","x":-2.12,"D":0.555},{"s":"D(φ) US3","x":-2.07,"D":0.563},{"s":"D(φ) US3","x":-2.02,"D":0.57},{"s":"D(φ) US3","x":-1.97,"D":0.575},{"s":"D(φ) US3","x":-1.92,"D":0.583},{"s":"D(φ) US3","x":-1.88,"D":0.588},
{"s":"D(φ) US3","x":-1.81,"D":0.0},{"s":"D(φ) US3","x":-1.59,"D":0.0},{"s":"D(φ) US3","x":-1.41,"D":0.138},
{"s":"D(φ) US3","x":-1.37,"D":0.753},{"s":"D(φ) US3","x":-1.33,"D":0.72},{"s":"D(φ) US3","x":-1.29,"D":0.705},{"s":"D(φ) US3","x":-1.25,"D":0.70},{"s":"D(φ) US3","x":-1.2,"D":0.71},{"s":"D(φ) US3","x":-1.15,"D":0.70},{"s":"D(φ) US3","x":-1.1,"D":0.715},{"s":"D(φ) US3","x":-1.05,"D":0.725},{"s":"D(φ) US3","x":-1.0,"D":0.735},{"s":"D(φ) US3","x":-0.95,"D":0.74},{"s":"D(φ) US3","x":-0.9,"D":0.75},{"s":"D(φ) US3","x":-0.85,"D":0.758},{"s":"D(φ) US3","x":-0.8,"D":0.765},{"s":"D(φ) US3","x":-0.75,"D":0.77},{"s":"D(φ) US3","x":-0.7,"D":0.745},{"s":"D(φ) US3","x":-0.65,"D":0.758},{"s":"D(φ) US3","x":-0.6,"D":0.77},{"s":"D(φ) US3","x":-0.55,"D":0.79},{"s":"D(φ) US3","x":-0.5,"D":0.80},{"s":"D(φ) US3","x":-0.45,"D":0.81},{"s":"D(φ) US3","x":-0.4,"D":0.83},{"s":"D(φ) US3","x":-0.35,"D":0.84},{"s":"D(φ) US3","x":-0.3,"D":0.86},{"s":"D(φ) US3","x":-0.25,"D":0.865},{"s":"D(φ) US3","x":-0.2,"D":0.845},{"s":"D(φ) US3","x":-0.15,"D":0.87},{"s":"D(φ) US3","x":-0.1,"D":0.88},{"s":"D(φ) US3","x":-0.05,"D":0.86},{"s":"D(φ) US3","x":0.0,"D":0.855},{"s":"D(φ) US3","x":0.05,"D":0.845},{"s":"D(φ) US3","x":0.1,"D":0.84},{"s":"D(φ) US3","x":0.15,"D":0.855},{"s":"D(φ) US3","x":0.2,"D":0.862},{"s":"D(φ) US3","x":0.25,"D":0.86},{"s":"D(φ) US3","x":0.3,"D":0.855},{"s":"D(φ) US3","x":0.35,"D":0.85},{"s":"D(φ) US3","x":0.4,"D":0.81},{"s":"D(φ) US3","x":0.45,"D":0.79},{"s":"D(φ) US3","x":0.5,"D":0.80},{"s":"D(φ) US3","x":0.55,"D":0.795},{"s":"D(φ) US3","x":0.6,"D":0.79},{"s":"D(φ) US3","x":0.65,"D":0.785},{"s":"D(φ) US3","x":0.7,"D":0.775},{"s":"D(φ) US3","x":0.75,"D":0.76},{"s":"D(φ) US3","x":0.8,"D":0.753},{"s":"D(φ) US3","x":0.85,"D":0.745},{"s":"D(φ) US3","x":0.9,"D":0.73},{"s":"D(φ) US3","x":0.95,"D":0.75},{"s":"D(φ) US3","x":1.0,"D":0.73},{"s":"D(φ) US3","x":1.05,"D":0.725},{"s":"D(φ) US3","x":1.1,"D":0.72},{"s":"D(φ) US3","x":1.15,"D":0.71},{"s":"D(φ) US3","x":1.2,"D":0.705},{"s":"D(φ) US3","x":1.25,"D":0.70},{"s":"D(φ) US3","x":1.3,"D":0.695},{"s":"D(φ) US3","x":1.35,"D":0.70},
{"s":"D(φ) US3","x":1.40,"D":0.0},{"s":"D(φ) US3","x":1.57,"D":0.0},{"s":"D(φ) US3","x":1.79,"D":0.0},
{"s":"D(φ) US3","x":1.85,"D":0.585},{"s":"D(φ) US3","x":1.88,"D":0.555},{"s":"D(φ) US3","x":1.91,"D":0.53},{"s":"D(φ) US3","x":1.95,"D":0.57},{"s":"D(φ) US3","x":2.0,"D":0.56},{"s":"D(φ) US3","x":2.05,"D":0.555},{"s":"D(φ) US3","x":2.1,"D":0.545},{"s":"D(φ) US3","x":2.15,"D":0.55},{"s":"D(φ) US3","x":2.2,"D":0.535},{"s":"D(φ) US3","x":2.25,"D":0.52},{"s":"D(φ) US3","x":2.3,"D":0.51},{"s":"D(φ) US3","x":2.35,"D":0.512},{"s":"D(φ) US3","x":2.4,"D":0.507},{"s":"D(φ) US3","x":2.45,"D":0.505},{"s":"D(φ) US3","x":2.5,"D":0.502},{"s":"D(φ) US3","x":2.55,"D":0.50},{"s":"D(φ) US3","x":2.6,"D":0.495},{"s":"D(φ) US3","x":2.65,"D":0.49},{"s":"D(φ) US3","x":2.7,"D":0.488},{"s":"D(φ) US3","x":2.75,"D":0.49},{"s":"D(φ) US3","x":2.8,"D":0.485},{"s":"D(φ) US3","x":2.85,"D":0.483},{"s":"D(φ) US3","x":2.9,"D":0.485},{"s":"D(φ) US3","x":2.95,"D":0.482},{"s":"D(φ) US3","x":3.0,"D":0.48},{"s":"D(φ) US3","x":3.05,"D":0.483},{"s":"D(φ) US3","x":3.1,"D":0.488}
]
},
"hconcat": [
{
 "width": 538, "height": 353,
 "title": {"text": "pSb5"},
 "resolve": {"scale": {"y": "independent"}},
 "layer": [
  {
   "data": {"name": "cA"},
   "layer": [
    {"mark": {"type": "line", "strokeWidth": 6, "opacity": 0.3, "interpolate": "monotone", "clip": true},
     "encoding": {
      "x": {"field": "x", "type": "quantitative", "scale": {"domain": [-3.927, 3.927], "nice": false, "zero": false}, "axis": {"values": [-3,-2,-1,0,1,2,3], "format": "d", "title": "φ (rad)"}},
      "y": {"field": "F", "type": "quantitative", "scale": {"domain": [-7, 105], "nice": false, "zero": false}, "axis": {"orient": "left", "values": [0,20,40,60,80,100], "title": "F(φ) (kJ/mol)", "titlePadding": 0}},
      "color": {"field": "s", "type": "nominal", "scale": {"domain": ["MetaD1","US1","US3","MetaD2","US2","D(φ) US3","MetaD3"], "range": ["#1f77b4","#d62728","#8c564b","#ff7f0e","#9467bd","#696969","#2ca02c"]},
       "legend": {"orient": "none", "direction": "horizontal", "legendX": 13, "legendY": 10.5, "columns": 3, "title": null, "symbolType": "stroke", "symbolSize": 1225, "symbolStrokeWidth": 1.6, "clipHeight": 26, "rowPadding": 0, "columnPadding": 90, "labelOffset": 13.4, "labelFontSize": 17, "labelFont": "DejaVu Sans", "labelColor": "black", "labelLimit": 400, "padding": 0,
        "encode": {"symbols": {"update": {
          "shape": {"signal": "datum.value === 'D(φ) US3' ? 'M-0.03,-0.3L0.03,-0.3L0.03,-0.03L0.3,-0.03L0.3,0.03L0.03,0.03L0.03,0.3L-0.03,0.3L-0.03,0.03L-0.3,0.03L-0.3,-0.03L-0.03,-0.03Z' : 'stroke'"},
          "angle": {"signal": "datum.value === 'D(φ) US3' ? 45 : 0"},
          "fill": {"signal": "datum.value === 'D(φ) US3' ? '#696969' : 'transparent'"},
          "opacity": {"value": 1}
        }}}}}
     }},
    {"mark": {"type": "line", "strokeWidth": 1.3, "interpolate": "monotone", "clip": true},
     "encoding": {
      "x": {"field": "x", "type": "quantitative", "scale": {"domain": [-3.927, 3.927], "nice": false, "zero": false}, "axis": {"values": [-3,-2,-1,0,1,2,3], "format": "d", "title": "φ (rad)"}},
      "y": {"field": "F", "type": "quantitative", "scale": {"domain": [-7, 105], "nice": false, "zero": false}, "axis": {"orient": "left", "values": [0,20,40,60,80,100], "title": "F(φ) (kJ/mol)", "titlePadding": 0}},
      "color": {"field": "s", "type": "nominal", "scale": {"domain": ["MetaD1","US1","US3","MetaD2","US2","D(φ) US3","MetaD3"], "range": ["#1f77b4","#d62728","#8c564b","#ff7f0e","#9467bd","#696969","#2ca02c"]},
       "legend": {"orient": "none", "direction": "horizontal", "legendX": 13, "legendY": 10.5, "columns": 3, "title": null, "symbolType": "stroke", "symbolSize": 1225, "symbolStrokeWidth": 1.6, "clipHeight": 26, "rowPadding": 0, "columnPadding": 90, "labelOffset": 13.4, "labelFontSize": 17, "labelFont": "DejaVu Sans", "labelColor": "black", "labelLimit": 400, "padding": 0,
        "encode": {"symbols": {"update": {
          "shape": {"signal": "datum.value === 'D(φ) US3' ? 'M-0.03,-0.3L0.03,-0.3L0.03,-0.03L0.3,-0.03L0.3,0.03L0.03,0.03L0.03,0.3L-0.03,0.3L-0.03,0.03L-0.3,0.03L-0.3,-0.03L-0.03,-0.03Z' : 'stroke'"},
          "angle": {"signal": "datum.value === 'D(φ) US3' ? 45 : 0"},
          "fill": {"signal": "datum.value === 'D(φ) US3' ? '#696969' : 'transparent'"},
          "opacity": {"value": 1}
        }}}}}
     }}
   ]
  },
  {
   "data": {"name": "pA"},
   "mark": {"type": "point", "shape": "M-1,-1L1,1M1,-1L-1,1", "filled": false, "size": 90, "strokeWidth": 2.6, "opacity": 1, "clip": true},
   "encoding": {
    "x": {"field": "x", "type": "quantitative", "scale": {"domain": [-3.927, 3.927], "nice": false, "zero": false}, "axis": {"values": [-3,-2,-1,0,1,2,3], "format": "d", "title": "φ (rad)"}},
    "y": {"field": "D", "type": "quantitative", "scale": {"domain": [-0.089, 1.404], "nice": false, "zero": false}, "axis": {"orient": "right", "values": [0,0.2,0.4,0.6,0.8,1.0,1.2,1.4], "format": ".1f", "title": "(A)", "titleAngle": 0, "titleX": -606, "titleY": -10, "titleAlign": "left", "titleBaseline": "alphabetic", "titleFont": "Liberation Serif", "titleFontSize": 22}},
    "color": {"field": "s", "type": "nominal", "scale": {"domain": ["MetaD1","US1","US3","MetaD2","US2","D(φ) US3","MetaD3"], "range": ["#1f77b4","#d62728","#8c564b","#ff7f0e","#9467bd","#696969","#2ca02c"]},
       "legend": {"orient": "none", "direction": "horizontal", "legendX": 13, "legendY": 10.5, "columns": 3, "title": null, "symbolType": "stroke", "symbolSize": 1225, "symbolStrokeWidth": 1.6, "clipHeight": 26, "rowPadding": 0, "columnPadding": 90, "labelOffset": 13.4, "labelFontSize": 17, "labelFont": "DejaVu Sans", "labelColor": "black", "labelLimit": 400, "padding": 0,
        "encode": {"symbols": {"update": {
          "shape": {"signal": "datum.value === 'D(φ) US3' ? 'M-0.03,-0.3L0.03,-0.3L0.03,-0.03L0.3,-0.03L0.3,0.03L0.03,0.03L0.03,0.3L-0.03,0.3L-0.03,0.03L-0.3,0.03L-0.3,-0.03L-0.03,-0.03Z' : 'stroke'"},
          "angle": {"signal": "datum.value === 'D(φ) US3' ? 45 : 0"},
          "fill": {"signal": "datum.value === 'D(φ) US3' ? '#696969' : 'transparent'"},
          "opacity": {"value": 1}
        }}}}}
   }
  }
 ]
},
{
 "width": 538, "height": 353,
 "title": {"text": "pSb1"},
 "resolve": {"scale": {"y": "independent"}},
 "layer": [
  {
   "data": {"name": "cB"},
   "layer": [
    {"mark": {"type": "line", "strokeWidth": 6, "opacity": 0.3, "interpolate": "monotone", "clip": true},
     "encoding": {
      "x": {"field": "x", "type": "quantitative", "scale": {"domain": [-3.927, 3.927], "nice": false, "zero": false}, "axis": {"values": [-3,-2,-1,0,1,2,3], "format": "d", "title": "φ (rad)"}},
      "y": {"field": "F", "type": "quantitative", "scale": {"domain": [-7, 105], "nice": false, "zero": false}, "axis": {"orient": "left", "values": [0,20,40,60,80,100], "title": "(B)", "titleAngle": 0, "titleX": -52, "titleY": -10, "titleAlign": "left", "titleBaseline": "alphabetic", "titleFont": "Liberation Serif", "titleFontSize": 22}},
      "color": {"field": "s", "type": "nominal", "scale": {"domain": ["MetaD1","MetaD3","US2","MetaD2","US1","US3"], "range": ["#1f77b4","#2ca02c","#9467bd","#ff7f0e","#d62728","#8c564b"]},
       "legend": {"orient": "none", "direction": "horizontal", "legendX": 15, "legendY": 10.5, "columns": 3, "title": null, "symbolType": "stroke", "symbolSize": 1225, "symbolStrokeWidth": 1.6, "symbolOpacity": 0.7, "clipHeight": 26, "rowPadding": 0, "columnPadding": 20, "labelOffset": 13.4, "labelFontSize": 17, "labelFont": "DejaVu Sans", "labelColor": "black", "labelLimit": 400, "padding": 0,
        "encode": {"symbols": {"update": {"opacity": {"value": 0.7}, "strokeWidth": {"value": 1.6}}}}}}
     }},
    {"mark": {"type": "line", "strokeWidth": 1.3, "opacity": 0.65, "interpolate": "monotone", "clip": true},
     "encoding": {
      "x": {"field": "x", "type": "quantitative", "scale": {"domain": [-3.927, 3.927], "nice": false, "zero": false}, "axis": {"values": [-3,-2,-1,0,1,2,3], "format": "d", "title": "φ (rad)"}},
      "y": {"field": "F", "type": "quantitative", "scale": {"domain": [-7, 105], "nice": false, "zero": false}, "axis": {"orient": "left", "values": [0,20,40,60,80,100], "title": "(B)", "titleAngle": 0, "titleX": -52, "titleY": -10, "titleAlign": "left", "titleBaseline": "alphabetic", "titleFont": "Liberation Serif", "titleFontSize": 22}},
      "color": {"field": "s", "type": "nominal", "scale": {"domain": ["MetaD1","MetaD3","US2","MetaD2","US1","US3"], "range": ["#1f77b4","#2ca02c","#9467bd","#ff7f0e","#d62728","#8c564b"]},
       "legend": {"orient": "none", "direction": "horizontal", "legendX": 15, "legendY": 10.5, "columns": 3, "title": null, "symbolType": "stroke", "symbolSize": 1225, "symbolStrokeWidth": 1.6, "symbolOpacity": 0.7, "clipHeight": 26, "rowPadding": 0, "columnPadding": 20, "labelOffset": 13.4, "labelFontSize": 17, "labelFont": "DejaVu Sans", "labelColor": "black", "labelLimit": 400, "padding": 0,
        "encode": {"symbols": {"update": {"opacity": {"value": 0.7}, "strokeWidth": {"value": 1.6}}}}}}
     }}
   ]
  },
  {
   "layer": [
    {"data": {"name": "xB"},
     "mark": {"type": "point", "filled": true, "color": "#696969", "size": 100, "strokeWidth": 0, "opacity": 1, "clip": true},
     "encoding": {
      "x": {"field": "x", "type": "quantitative", "scale": {"domain": [-3.927, 3.927], "nice": false, "zero": false}, "axis": {"values": [-3,-2,-1,0,1,2,3], "format": "d", "title": "φ (rad)"}},
      "y": {"field": "D", "type": "quantitative", "scale": {"domain": [-0.089, 1.404], "nice": false, "zero": false}, "axis": {"orient": "right", "values": [0,0.2,0.4,0.6,0.8,1.0,1.2,1.4], "format": ".1f", "title": "D(φ) (rad²/ps)", "titleAngle": 270, "titleBaseline": "top", "titlePadding": 3}},
      "shape": {"field": "s", "type": "nominal", "scale": {"domain": ["D(φ) US2","D(φ) US3"], "range": ["M0,0.4L0.6,1L1,0.6L0.4,0L1,-0.6L0.6,-1L0,-0.4L-0.6,-1L-1,-0.6L-0.4,0L-1,0.6L-0.6,1Z","circle"]},
       "legend": {"orient": "none", "direction": "vertical", "legendX": 390, "legendY": 10.5, "title": null, "symbolSize": 72, "symbolStrokeWidth": 0, "symbolOffset": 9.5, "clipHeight": 26, "rowPadding": 0, "labelOffset": 24, "labelFontSize": 17, "labelFont": "DejaVu Sans", "labelColor": "black", "labelLimit": 400, "padding": 0, "symbolFillColor": "#696969", "symbolStrokeColor": "#696969", "symbolOpacity": 1,
        "encode": {"symbols": {"update": {"fill": {"value": "#696969"}, "opacity": {"value": 1}}}}}}
     }},
    {"data": {"name": "oB"},
     "mark": {"type": "point", "filled": true, "color": "#696969", "size": 80, "strokeWidth": 0, "opacity": 1, "clip": true},
     "encoding": {
      "x": {"field": "x", "type": "quantitative", "scale": {"domain": [-3.927, 3.927], "nice": false, "zero": false}, "axis": {"values": [-3,-2,-1,0,1,2,3], "format": "d", "title": "φ (rad)"}},
      "y": {"field": "D", "type": "quantitative", "scale": {"domain": [-0.089, 1.404], "nice": false, "zero": false}, "axis": {"orient": "right", "values": [0,0.2,0.4,0.6,0.8,1.0,1.2,1.4], "format": ".1f", "title": "D(φ) (rad²/ps)", "titleAngle": 270, "titleBaseline": "top", "titlePadding": 3}},
      "shape": {"field": "s", "type": "nominal", "scale": {"domain": ["D(φ) US2","D(φ) US3"], "range": ["M0,0.4L0.6,1L1,0.6L0.4,0L1,-0.6L0.6,-1L0,-0.4L-0.6,-1L-1,-0.6L-0.4,0L-1,0.6L-0.6,1Z","circle"]},
       "legend": {"orient": "none", "direction": "vertical", "legendX": 390, "legendY": 10.5, "title": null, "symbolSize": 72, "symbolStrokeWidth": 0, "symbolOffset": 9.5, "clipHeight": 26, "rowPadding": 0, "labelOffset": 24, "labelFontSize": 17, "labelFont": "DejaVu Sans", "labelColor": "black", "labelLimit": 400, "padding": 0, "symbolFillColor": "#696969", "symbolStrokeColor": "#696969", "symbolOpacity": 1,
        "encode": {"symbols": {"update": {"fill": {"value": "#696969"}, "opacity": {"value": 1}}}}}}
     }}
   ]
  }
 ]
}
],
"spacing": 105,
"bounds": "flush",
"resolve": {"scale": {"x": "independent", "y": "independent", "color": "independent", "shape": "independent"}, "legend": {"color": "independent", "shape": "independent"}}
}
